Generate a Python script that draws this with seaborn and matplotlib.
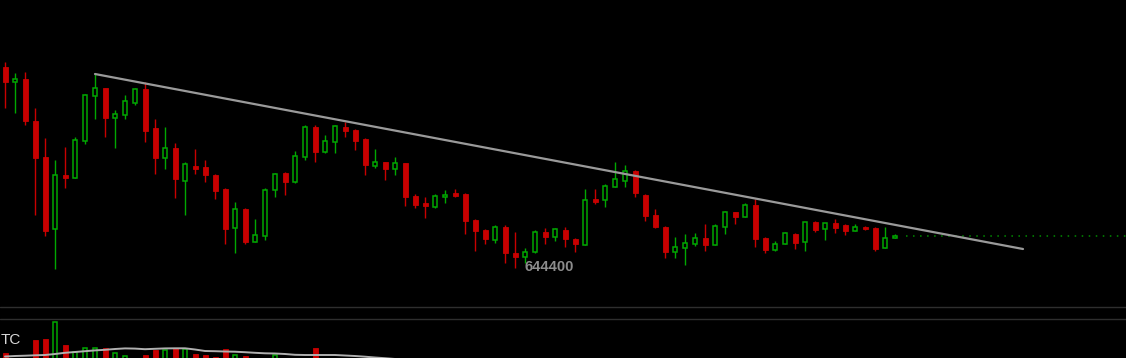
import matplotlib
matplotlib.use("Agg")
import matplotlib.pyplot as plt
import seaborn as sns
import numpy as np
import pandas as pd

# ---------------- data ----------------
opens = [664500, 663000, 663300, 659100, 655500, 648300, 653700, 653400, 657100, 661600,
         662400, 659400, 659700, 660900, 662300, 658400, 655400, 656400, 653100, 654600,
         654500, 653700, 652300, 648400, 650300, 647000, 647600, 652200, 653900, 653000,
         655500, 658500, 656000, 657000, 658500, 658200, 657300, 654600, 655000, 654300,
         654900, 651600, 650900, 650500, 651500, 651900, 651800, 649200, 648200, 647200,
         648500, 645900, 645500, 646000, 648000, 647500, 648200, 647300, 646700, 651300,
         651200, 652500, 653100, 654100, 651700, 649700, 648500, 646000, 646400, 646800,
         647400, 646700, 648500, 650000, 649500, 650700, 647400, 646200, 646800, 647800,
         647000, 649000, 648300, 648900, 648700, 648100, 648500, 648400, 646400, 647400]
highs = [665000, 663900, 664000, 660400, 657400, 655200, 656500, 657500, 661800, 663800,
         662400, 660200, 661700, 662400, 663000, 659300, 658500, 656900, 655000, 656300,
         655200, 653800, 652400, 651000, 650400, 649300, 652400, 653900, 654000, 656100,
         658700, 658700, 657700, 658700, 659000, 658300, 657400, 656300, 655000, 655500,
         654900, 651800, 651500, 651800, 652200, 652300, 651900, 649300, 648300, 648700,
         648700, 648000, 646400, 648200, 648400, 648400, 648500, 647400, 652300, 652300,
         652800, 655000, 654700, 654200, 651800, 650300, 648600, 647500, 647800, 647900,
         648800, 648800, 650100, 650000, 650900, 651300, 647500, 647100, 648000, 647900,
         649000, 649100, 648900, 649300, 648800, 648800, 648600, 648500, 648500, 647800]
lows = [660400, 659900, 658700, 649700, 647600, 644300, 652400, 653400, 656800, 659300,
        657500, 656400, 659300, 660700, 657000, 653800, 654300, 651400, 649700, 653800,
        653000, 651300, 646800, 645900, 646800, 647000, 647200, 651500, 651700, 652900,
        655200, 655000, 655900, 655900, 657500, 656200, 653700, 654400, 653200, 653700,
        650600, 650400, 649400, 650400, 650900, 651500, 647800, 646100, 646800, 646900,
        644900, 644400, 644900, 645900, 646800, 647100, 646500, 646000, 646700, 650800,
        650500, 652500, 652500, 651500, 649100, 648400, 645400, 645400, 644700, 646600,
        646100, 646700, 647800, 648800, 649500, 646500, 645900, 646100, 646800, 646300,
        646100, 648000, 647200, 647900, 647700, 648100, 648200, 646100, 646400, 647400]
closes = [663000, 663300, 659100, 655400, 648100, 653700, 653400, 657200, 661700, 662400,
          659400, 659800, 661100, 662300, 658100, 655400, 656400, 653300, 654800, 654300,
          653700, 652100, 648300, 650300, 647000, 647700, 652200, 653800, 653000, 655600,
          658500, 656000, 657100, 658600, 658100, 657100, 654700, 655000, 654300, 654900,
          651500, 650700, 650600, 651600, 651700, 651600, 649100, 648100, 647300, 648500,
          645900, 645500, 646000, 648000, 647500, 648300, 647300, 646800, 651200, 651000,
          652600, 653300, 654100, 651900, 649600, 648500, 646000, 646500, 646900, 647400,
          646700, 648600, 650000, 649500, 650700, 647300, 646200, 646800, 647900, 646900,
          649000, 648200, 648900, 648400, 648100, 648500, 648300, 646300, 647400, 647600]
volumes = [473, 400, 405, 600, 610, 783, 550, 483, 523, 523,
           523, 473, 440, 405, 450, 500, 500, 523, 510, 460,
           450, 433, 507, 450, 440, 400, 400, 450, 400, 410,
           400, 523, 400, 395, 390, 385, 380, 380, 375, 370,
           370, 365, 360, 360, 355, 355, 350, 350, 345, 345,
           345, 340, 340, 340, 335, 335, 335, 330, 330, 330,
           330, 330, 330, 330, 330, 330, 330, 330, 330, 330,
           330, 330, 330, 330, 330, 330, 330, 330, 330, 330,
           330, 330, 330, 330, 330, 330, 330, 330, 330, 330]
vol_ma = [435, 440, 443, 447, 450, 460, 472, 480, 488, 496,
          502, 510, 516, 514, 508, 512, 516, 517, 517, 505,
          490, 488, 485, 483, 478, 472, 467, 465, 460, 452,
          450, 450, 450, 450, 445, 440, 433, 425, 418, 410,
          405, 400, 395, 390, 385, 380, 375, 370, 365, 360]
trend_x = [9, 101.8]
trend_y = [663800, 646300]
low_label = "644400"
symbol_label = "TC"

# ---------------- styling ----------------
W, H = 1126, 358
DPI = 100
RED = "#c80000"
GREEN = "#00a800"
BG = "#000000"

sns.set_style("dark", {"axes.facecolor": BG, "figure.facecolor": BG})
plt.rcParams["font.family"] = ["Liberation Sans", "DejaVu Sans"]

fig = plt.figure(figsize=(W / DPI, H / DPI), dpi=DPI, facecolor=BG)
main_top, main_bot = 0, 306
vol_top = 319
ax = fig.add_axes([0, 1 - main_bot / H, 1, (main_bot - main_top) / H])
axv = fig.add_axes([0, 0, 1, (H - vol_top) / H])
for a in (ax, axv):
    a.set_facecolor(BG)
    a.set_axis_off()

df = pd.DataFrame({"open": opens, "high": highs, "low": lows, "close": closes,
                   "volume": volumes})
df["idx"] = np.arange(len(df))
df["up"] = df["close"] >= df["open"]
df["color"] = np.where(df["up"], GREEN, RED)
df["body_lo"] = df[["open", "close"]].min(axis=1)
df["body_h"] = (df["close"] - df["open"]).abs().clip(lower=120)

xmin, xmax = -0.5, (W - 5) / 10.0
ax.set_xlim(xmin, xmax)
ax.set_ylim(671200 - 100 * main_bot, 671200)

# wicks
ax.vlines(df["idx"], df["low"], df["high"], colors=df["color"], linewidth=1.0, zorder=2)
# bodies
up = df[df["up"]]
dn = df[~df["up"]]
ax.bar(dn["idx"], dn["body_h"], bottom=dn["body_lo"], width=0.5, color=RED,
       edgecolor=RED, linewidth=0.6, zorder=3)
ax.bar(up["idx"], up["body_h"], bottom=up["body_lo"], width=0.45, color=BG,
       edgecolor=GREEN, linewidth=1.1, zorder=3)

# trend line
sns.lineplot(x=trend_x, y=trend_y, ax=ax, color="#9a9a9a", linewidth=1.6, zorder=4)

# last price dotted line
last = closes[-1]
ax.plot([len(closes) + 0.1, xmax], [last, last], color="#008c00", linewidth=1.1,
        linestyle=(0, (1, 3.6)), zorder=2)

# low label
ax.annotate(low_label, xy=(51, lows[51]), xytext=(24.5, 1), textcoords="offset points",
            ha="center", va="center", color="#8c8c8c", fontsize=10.5, fontweight="bold")

# volume pane
axv.set_xlim(xmin, xmax)
axv.set_ylim(420, 420 + 10 * (H - vol_top))
vup = df[df["up"]]
vdn = df[~df["up"]]
axv.bar(vdn["idx"], vdn["volume"], width=0.5, color=RED, edgecolor=RED, linewidth=0.6)
axv.bar(vup["idx"], vup["volume"], width=0.45, color=BG, edgecolor=GREEN, linewidth=1.1)
sns.lineplot(x=np.arange(len(vol_ma)), y=vol_ma, ax=axv, color="#b0b0b0", linewidth=1.4)
axv.set_xlabel("")
axv.set_ylabel("")
ax.set_xlabel("")
ax.set_ylabel("")

# separator lines
for yy in (306.5, 319.0):
    fig.add_artist(plt.Line2D([0, 1], [1 - yy / H, 1 - yy / H], color="#2e2e2e",
                              linewidth=1.0, transform=fig.transFigure))

fig.text(0.5 / W, 1 - 339.5 / H, symbol_label, color="#d8d8d8", fontsize=11,
         ha="left", va="center")

fig.savefig("out.png", dpi=DPI, facecolor=BG)
